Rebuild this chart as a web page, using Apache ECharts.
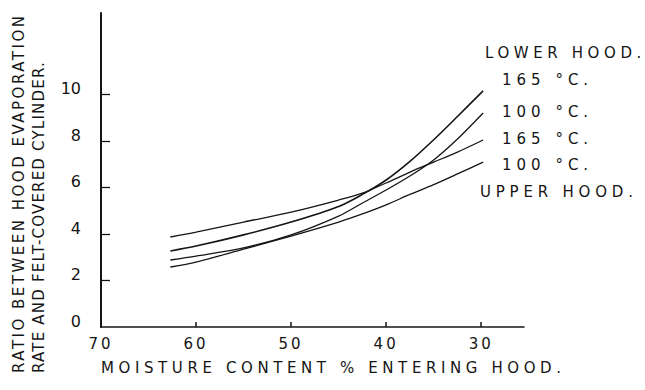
<!DOCTYPE html>
<html style="height: 100%; margin: 0">
<head>
<meta charset="UTF-8">
<title>Hood evaporation ratio</title>
</head>
<body style="height: 100%; margin: 0; background: #fff">
<div id="container" style="width: 645px; height: 390px"></div>
<script type="text/javascript" src="https://cdn.jsdelivr.net/npm/echarts@6/dist/echarts.min.js"></script>
<script type="text/javascript">
	// moisture content % entering hood (x) and read-off ratios for each curve
	var moisture = [62.7, 60, 55, 50, 45, 42.5, 40, 37.5, 35, 32.5, 29.8];
	var lower165 = [3.27, 3.48, 3.96, 4.51, 5.18, 5.70, 6.32, 7.12, 8.05, 9.05, 10.15];
	var lower100 = [2.88, 3.05, 3.40, 3.96, 4.77, 5.33, 5.89, 6.49, 7.18, 8.08, 9.20];
	var upper165 = [3.87, 4.08, 4.51, 4.94, 5.46, 5.76, 6.19, 6.66, 7.09, 7.52, 8.04];
	var upper100 = [2.58, 2.79, 3.35, 3.91, 4.51, 4.86, 5.25, 5.70, 6.12, 6.58, 7.09];
	var xLabels = [70, 60, 50, 40, 30];
	var xTickMarks = [60, 50, 40, 30];
	var yLabels = [0, 2, 4, 6, 8, 10];
	var yTickMarks = [2, 4, 6, 8, 10];
	var keyLines = ['LOWER HOOD.', '165 °C.', '100 °C.', '165 °C.', '100 °C.', 'UPPER HOOD.'];

	var ink = '#151515';
	var font = 'DejaVu Sans';

	function pairs(vals) {
		return moisture.map(function (m, i) { return [m, vals[i]]; });
	}

	function curve(name, vals, width) {
		return {
			name: name,
			type: 'line',
			smooth: 0.3,
			symbol: 'none',
			lineStyle: { color: ink, width: width },
			data: pairs(vals)
		};
	}

	function label(text, x, y, rot) {
		return {
			type: 'text',
			x: x,
			y: y,
			rotation: rot || 0,
			style: {
				text: text,
				fill: ink,
				fontFamily: font,
				fontSize: 15,
				align: 'left',
				verticalAlign: 'middle'
			}
		};
	}

	// hand-lettered look: wide letter spacing per text
	var spread = {
		'RATIO BETWEEN HOOD EVAPORATION': 2.5,
		'RATE AND FELT-COVERED CYLINDER.': 1.2,
		'MOISTURE CONTENT % ENTERING HOOD.': 4.6,
		'LOWER HOOD.': 4.6,
		'UPPER HOOD.': 4.8,
		'165 °C.': 5,
		'100 °C.': 5,
		'70': 3, '60': 3, '50': 3, '40': 3, '30': 3
	};

	var keyX = [485, 502, 502, 502, 502, 480];
	var keyY = [53, 80, 112, 139, 165, 192];
	var graphics = [
		label('RATIO BETWEEN HOOD EVAPORATION', 19, 373, Math.PI / 2),
		label('RATE AND FELT-COVERED CYLINDER.', 39, 373, Math.PI / 2),
		label('MOISTURE CONTENT % ENTERING HOOD.', 101, 368)
	];
	for (var k = 0; k < keyLines.length; k++) {
		graphics.push(label(keyLines[k], keyX[k], keyY[k]));
	}

	var dom = document.getElementById('container');
	var myChart = echarts.init(dom, null, { renderer: 'svg' });
	var option = {
		animation: false,
		backgroundColor: '#fff',
		grid: { left: 101, right: 121, top: 13, bottom: 63 },
		xAxis: {
			type: 'value',
			inverse: true,
			min: 25.5,
			max: 70,
			axisLine: { lineStyle: { color: ink, width: 1.6 } },
			axisTick: {
				show: true,
				inside: true,
				length: 5,
				customValues: xTickMarks,
				lineStyle: { color: ink, width: 1.5 }
			},
			axisLabel: {
				customValues: xLabels,
				color: ink,
				fontFamily: font,
				fontSize: 15,
				margin: 9
			},
			splitLine: { show: false }
		},
		yAxis: {
			type: 'value',
			min: 0,
			max: 13.5,
			interval: 2,
			axisLine: { show: true, lineStyle: { color: ink, width: 2 } },
			axisTick: {
				show: true,
				inside: true,
				length: 9,
				customValues: yTickMarks,
				lineStyle: { color: ink, width: 1.3 }
			},
			axisLabel: {
				customValues: yLabels,
				color: ink,
				fontFamily: font,
				fontSize: 16,
				margin: 20,
				verticalAlign: 'bottom',
				lineHeight: 11
			},
			splitLine: { show: false }
		},
		graphic: graphics,
		series: [
			curve('Lower hood 165 °C', lower165, 1.6),
			curve('Lower hood 100 °C', lower100, 1.3),
			curve('Upper hood 165 °C', upper165, 1.3),
			curve('Upper hood 100 °C', upper100, 1.3)
		]
	};

	function spreadLetters() {
		var texts = dom.querySelectorAll('text');
		for (var i = 0; i < texts.length; i++) {
			var s = spread[texts[i].textContent];
			if (s) {
				texts[i].setAttribute('letter-spacing', s);
			}
		}
	}

	myChart.setOption(option);
	spreadLetters();
	myChart.on('finished', spreadLetters);
</script>
</body>
</html>
